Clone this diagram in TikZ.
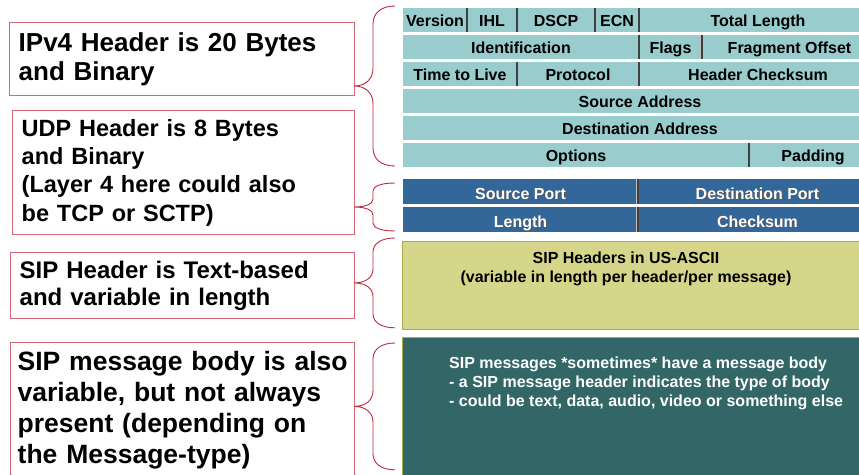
\documentclass[tikz,border=0pt]{standalone}
\usepackage{fontspec}
\setmainfont{Liberation Sans}
\usetikzlibrary{positioning, calc}

\definecolor{ipfill}{HTML}{99CCCC}
\definecolor{udpfill}{HTML}{336699}
\definecolor{hdrfill}{HTML}{D6D68A}
\definecolor{hdredge}{HTML}{ABAB4E}
\definecolor{bodyfill}{HTML}{336666}
\definecolor{noteedge}{HTML}{D46A78}
\definecolor{braceclr}{HTML}{C0283E}

\newcommand{\cellfont}{\fontsize{16}{18}\selectfont\bfseries}
\newcommand{\shtxt}[1]{\makebox[0pt][l]{\hspace{1.2pt}\raisebox{-1.2pt}{\textcolor{black!65}{#1}}}\textcolor{white}{#1}}
% curly brace: top end, bottom end, hook size
\newcommand{\sipbrace}[3]{%
  \coordinate (bm) at ($(#1)!0.5!(#2)+(-41,0)$);
  \draw[bracer] (#1) .. controls +(-14,0) and +(0,-#3*0.6) .. ++(-22,#3)
    -- ($(bm)+(19,-#3)$) .. controls +(0,#3*0.6) and +(12,0) .. (bm)
    .. controls +(12,0) and +(0,-#3*0.6) .. ($(bm)+(19,#3)$)
    -- ($(#2)+(-22,-#3)$) .. controls +(0,#3*0.6) and +(-14,0) .. (#2);
}

\begin{document}
\begin{tikzpicture}[x=1pt, y=-1pt,
  note/.style={draw=noteedge, line width=1.4pt, anchor=north west, inner xsep=9pt, inner ysep=0pt, align=left},
  ipcell/.style={fill=ipfill, minimum height=24pt, inner sep=0pt, outer sep=0pt, text height=13pt, text depth=0pt, font=\cellfont},
  udpcell/.style={fill=udpfill, minimum height=25pt, inner sep=0pt, outer sep=0pt, text height=15pt, text depth=0pt, font=\cellfont},
  hdrbox/.style={draw=hdredge, fill=hdrfill, line width=0.8pt, anchor=north west, minimum width=475pt, minimum height=88pt, inner sep=0pt},
  bodybox/.style={draw=hdredge, fill=bodyfill, line width=0.8pt, anchor=north west, minimum width=475pt, minimum height=141pt, inner sep=0pt},
  boxtext/.style={inner sep=0pt, font=\fontsize{16}{19}\selectfont\bfseries},
  divdark/.style={draw=black!75, line width=1.6pt},
  divlite/.style={draw=black!25, line width=0.9pt},
  bracer/.style={draw=braceclr, line width=0.9pt}
]
\useasboundingbox (0,0) rectangle (859,474);
\clip (0,0) rectangle (859,474);

% IPv4 header
\node[ipcell, anchor=north west, minimum width=64pt] (ipver) at (403,8) {Version};
\node[ipcell, right=0pt of ipver, minimum width=50pt] (ipihl) {IHL};
\node[ipcell, right=0pt of ipihl, minimum width=78pt] (ipdscp) {DSCP};
\node[ipcell, right=0pt of ipdscp, minimum width=44pt] (ipecn) {ECN};
\node[ipcell, right=0pt of ipecn, minimum width=238pt] (iptot) {Total Length};

\node[ipcell, anchor=north west, minimum width=236pt] (ipid) at (403,35) {Identification};
\node[ipcell, right=0pt of ipid, minimum width=63pt] (ipflg) {Flags};
\node[ipcell, right=0pt of ipflg, minimum width=175pt] (ipfrag) {Fragment Offset};

\node[ipcell, anchor=north west, minimum width=114pt] (ipttl) at (403,62) {Time to Live};
\node[ipcell, right=0pt of ipttl, minimum width=122pt] (ipprot) {Protocol};
\node[ipcell, right=0pt of ipprot, minimum width=238pt] (ipchk) {Header Checksum};

\node[ipcell, anchor=north west, minimum width=474pt] (ipsrc) at (403,89) {Source Address};
\node[ipcell, anchor=north west, minimum width=474pt] (ipdst) at (403,116) {Destination Address};

\node[ipcell, anchor=north west, minimum width=346pt] (ipopt) at (403,143) {Options};
\node[ipcell, right=0pt of ipopt, minimum width=128pt] (ippad) {Padding};

% UDP header
\node[udpcell, anchor=north west, minimum width=235pt] (udpsrc) at (403,179) {\shtxt{Source Port}};
\node[udpcell, right=0pt of udpsrc, minimum width=239pt] (udpdst) {\shtxt{Destination Port}};
\node[udpcell, anchor=north west, minimum width=235pt] (udplen) at (403,207) {\shtxt{Length}};
\node[udpcell, right=0pt of udplen, minimum width=239pt] (udpchk) {\shtxt{Checksum}};

% field separators
\foreach \c in {ipihl,ipdscp,ipecn,iptot,ipflg,ipfrag,ipprot,ipchk,ippad,udpdst,udpchk}{
  \draw[divlite] ([xshift=-1.4pt]\c.north west) -- ([xshift=-1.4pt]\c.south west);
  \draw[divdark] (\c.north west) -- (\c.south west);
}

% SIP header and body
\node[hdrbox] (siphdr) at (402,241) {};
\node[boxtext, anchor=north, align=center] (siphdrtxt) at ($(siphdr.north west)+(224,11)$) {SIP Headers in US-ASCII\\(variable in length per header/per message)};
\node[bodybox] (sipbody) at (402,337) {};
\node[boxtext, anchor=north west, align=left, text=white] (sipbodytxt) at ($(sipbody.north west)+(47,20)$) {SIP messages *sometimes* have a message body\\- a SIP message header indicates the type of body\\- could be text, data, audio, video or something else};

% notes on the left
\node[note, text width=327pt, minimum height=73pt, font=\fontsize{26}{29.5}\selectfont\bfseries] (noteip) at (9,22) {IPv4 Header is 20 Bytes\\and Binary};
\node[note, text width=324pt, minimum height=124pt, font=\fontsize{23.5}{28.3}\selectfont\bfseries] (noteudp) at (12,110) {UDP Header is 8 Bytes\\and Binary\\(Layer 4 here could also\\be TCP or SCTP)};
\node[note, text width=326pt, minimum height=66pt, font=\fontsize{24}{27}\selectfont\bfseries] (notehdr) at (10,252) {SIP Header is Text-based\\and variable in length};
\node[note, inner xsep=7pt, text width=330pt, minimum height=135pt, font=\fontsize{26.5}{31}\selectfont\bfseries] (notebody) at (10,342) {SIP message body is also\\variable, but not always\\present (depending on\\the Message-type)};

% braces
\coordinate (brip1) at ($(ipver.north west)+(-8,-2)$);
\coordinate (brip2) at ($(ipopt.south west)+(-8,-1)$);
\coordinate (brudp1) at ($(udpsrc.north west)+(-8,4)$);
\coordinate (brudp2) at ($(udplen.south west)+(-8,-1)$);
\coordinate (brhdr1) at ($(siphdr.north west)+(-7,-3)$);
\coordinate (brhdr2) at ($(siphdr.south west)+(-7,-2)$);
\coordinate (brbody1) at ($(sipbody.north west)+(-7,6)$);
\coordinate (brbody2) at ($(sipbody.south west)+(-7,-9)$);
\sipbrace{brip1}{brip2}{18}
\sipbrace{brudp1}{brudp2}{8}
\sipbrace{brhdr1}{brhdr2}{14}
\sipbrace{brbody1}{brbody2}{16}

\end{tikzpicture}
\end{document}
